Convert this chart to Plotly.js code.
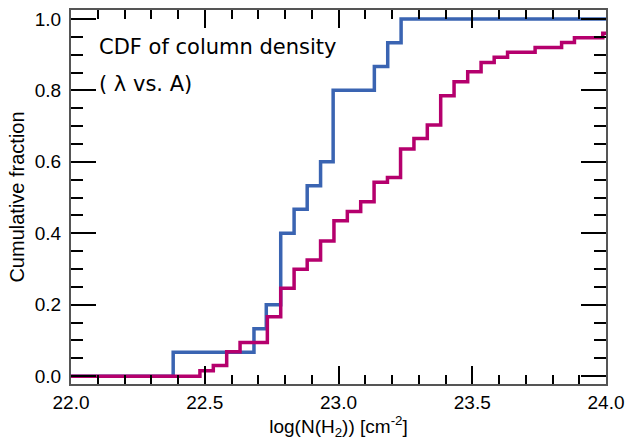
<!DOCTYPE html>
<html>
<head>
<meta charset="utf-8">
<script src="https://cdn.plot.ly/plotly-3.0.1.min.js"></script>
<style>html,body{margin:0;padding:0;background:#fff;}#chart{width:625px;height:443px;}</style>
</head>
<body>
<div id="chart"></div>
<script>
// Step edges (log N(H2)) and cumulative fractions
const lambdaX = [21.9, 22.382, 22.684, 22.73, 22.784, 22.834, 22.883, 22.933, 22.98, 23.134, 23.184, 23.234, 24.1];
const lambdaY = [0, 0.067, 0.133, 0.2, 0.4, 0.467, 0.533, 0.6, 0.8, 0.867, 0.933, 1.0, 1.0];

const aX = [21.9, 22.482, 22.532, 22.582, 22.632, 22.734, 22.784, 22.834, 22.883, 22.933, 22.983, 23.033, 23.083, 23.133, 23.183, 23.232, 23.282, 23.332, 23.382, 23.432, 23.483, 23.533, 23.582, 23.632, 23.735, 23.834, 23.882, 23.988, 24.1];
const aY = [0, 0.015, 0.030, 0.068, 0.094, 0.166, 0.246, 0.299, 0.325, 0.378, 0.435, 0.461, 0.488, 0.543, 0.556, 0.636, 0.665, 0.703, 0.785, 0.824, 0.852, 0.878, 0.893, 0.907, 0.920, 0.934, 0.947, 0.960, 0.960];

const xTickVals = [22.0, 22.5, 23.0, 23.5, 24.0];
const xTickText = ['22.0', '22.5', '23.0', '23.5', '24.0'];
const yTickVals = [0.0, 0.2, 0.4, 0.6, 0.8, 1.0];
const yTickText = ['0.0', '0.2', '0.4', '0.6', '0.8', '1.0'];

const blue = '#3a64b2';
const magenta = '#b5006d';

const traces = [
  {x: lambdaX, y: lambdaY, type: 'scatter', mode: 'lines', line: {shape: 'hv', color: blue, width: 3.5}, hoverinfo: 'skip'},
  {x: aX, y: aY, type: 'scatter', mode: 'lines', line: {shape: 'hv', color: magenta, width: 3.5}, hoverinfo: 'skip'}
];

const tickFont = {family: 'Liberation Sans, Arial, sans-serif', size: 19, color: '#000'};

const layout = {
  width: 625, height: 443,
  margin: {l: 71, r: 19, t: 10, b: 59, pad: 0},
  paper_bgcolor: '#fff', plot_bgcolor: '#fff',
  showlegend: false,
  xaxis: {
    range: [22, 24], tickmode: 'array', tickvals: xTickVals, ticktext: xTickText,
    ticks: 'inside', ticklen: 18, tickwidth: 2, tickcolor: '#000',
    minor: {dtick: 0.1, tick0: 22, ticks: 'inside', ticklen: 9, tickwidth: 2, tickcolor: '#000', showgrid: false},
    showline: true, linecolor: '#555', linewidth: 2, mirror: 'allticks',
    showgrid: false, zeroline: false, tickfont: tickFont, ticklabelstandoff: 0,
    title: {text: 'log(N(H<sub>2</sub>)) [cm<sup>-2</sup>]', font: tickFont, standoff: 4}
  },
  yaxis: {
    range: [-0.022, 1.025], tickmode: 'array', tickvals: yTickVals, ticktext: yTickText,
    ticks: 'inside', ticklen: 25, tickwidth: 2, tickcolor: '#000',
    minor: {dtick: 0.05, tick0: 0, ticks: 'inside', ticklen: 12, tickwidth: 2, tickcolor: '#000', showgrid: false},
    showline: true, linecolor: '#555', linewidth: 2, mirror: 'allticks',
    showgrid: false, zeroline: false, tickfont: tickFont, ticklabelstandoff: 4,
    title: {text: 'Cumulative fraction', font: {family: 'Liberation Sans, Arial, sans-serif', size: 20, color: '#000'}, standoff: 5}
  },
  annotations: [
    {xref: 'paper', yref: 'paper', x: 0.048, y: 0.901, xanchor: 'left', yanchor: 'middle', showarrow: false,
     text: 'CDF of column density', font: {family: 'DejaVu Sans', size: 21, color: '#000'}},
    {xref: 'paper', yref: 'paper', x: 0.048, y: 0.802, xanchor: 'left', yanchor: 'middle', showarrow: false,
     text: '( \u03bb vs. A)', font: {family: 'DejaVu Sans', size: 21, color: '#000'}}
  ]
};

Plotly.newPlot('chart', traces, layout, {staticPlot: true, displayModeBar: false});
</script>
</body>
</html>
